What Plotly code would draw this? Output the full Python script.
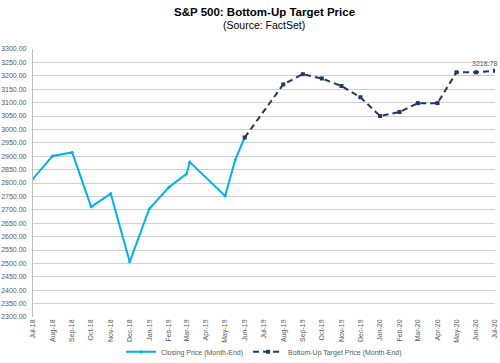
import plotly.graph_objects as go

# ---- data ----
close_dates = ["2018-07-01", "2018-08-01", "2018-09-01", "2018-10-01", "2018-11-01",
               "2018-12-01", "2019-01-01", "2019-02-01", "2019-03-01", "2019-03-06",
               "2019-05-01", "2019-05-17", "2019-06-01"]
close_values = [2816, 2901, 2914, 2711, 2760, 2506, 2704, 2784, 2834, 2878,
                2752, 2886, 2970]

target_dates = ["2019-06-01", "2019-08-01", "2019-09-01", "2019-10-01", "2019-11-01",
                "2019-12-01", "2020-01-01", "2020-02-01", "2020-03-01", "2020-04-01",
                "2020-05-01", "2020-06-01", "2020-07-01"]
target_values = [2970, 3168, 3206, 3190, 3162, 3120, 3050, 3065, 3098, 3098,
                 3213, 3213, 3218.78]

title_text = "S&P 500: Bottom-Up Target Price"
subtitle_text = "(Source: FactSet)"
close_name = "Closing Price (Month-End)"
target_name = "Bottom-Up Target Price (Month-End)"

FONT = "Liberation Sans, Arial, sans-serif"
GRAY = "#595959"

fig = go.Figure()
fig.add_trace(go.Scatter(
    x=close_dates, y=close_values, name=close_name, mode="lines+markers",
    line=dict(color="#00B0F0", width=2),
    marker=dict(symbol="circle", size=3, color="#00B0F0"),
))
fig.add_trace(go.Scatter(
    x=target_dates, y=target_values, name=target_name, mode="lines+markers",
    line=dict(color="#1F3864", width=2, dash="6px,4px"),
    marker=dict(symbol="square", size=4, color="#1F3864"),
))

fig.add_annotation(
    x=target_dates[-1], y=target_values[-1], xref="x", yref="y",
    text=f"{target_values[-1]:.2f}", showarrow=False,
    xanchor="right", yanchor="bottom", xshift=4, yshift=2,
    font=dict(family=FONT, size=7, color=GRAY),
)

fig.add_annotation(
    x=0.5, y=1.1395, xref="paper", yref="paper", text=f"<b>{title_text}</b>",
    showarrow=False, xanchor="center", yanchor="middle",
    font=dict(family=FONT, size=11.5, color="#000000"),
)
fig.add_annotation(
    x=0.5, y=1.091, xref="paper", yref="paper", text=subtitle_text,
    showarrow=False, xanchor="center", yanchor="middle",
    font=dict(family=FONT, size=10.5, color="#000000"),
)

fig.update_layout(
    width=500, height=363,
    margin=dict(l=33, r=5, t=49, b=46, pad=0, autoexpand=False),
    paper_bgcolor="white", plot_bgcolor="white",
    showlegend=True,
    legend=dict(orientation="h", x=0.5, xanchor="center", y=-0.13, yanchor="middle",
                font=dict(family=FONT, size=7, color=GRAY),
                bgcolor="rgba(0,0,0,0)", itemwidth=30, tracegroupgap=0),
    font=dict(family=FONT, color=GRAY),
)

fig.update_xaxes(
    type="date", range=["2018-07-01", "2020-07-01"], automargin=False,
    tick0="2018-07-01", dtick="M1", tickformat="%b-%y", tickangle=-90,
    tickfont=dict(family=FONT, size=7, color=GRAY),
    showgrid=False, showline=False, zeroline=False, ticks="", ticklen=0,
)
fig.update_yaxes(
    range=[2300, 3300], dtick=50, tickformat=".2f", automargin=False,
    tickfont=dict(family=FONT, size=7, color=GRAY),
    showgrid=True, gridcolor="#D0D0D0", gridwidth=1.3,
    showline=True, linecolor="#BFBFBF", linewidth=1.3,
    zeroline=False, ticks="", ticklabelstandoff=4,
)

fig.write_html(
    "out.html",
    config={"displayModeBar": False},
    post_script="document.body.style.margin='0';document.body.style.overflow='hidden';",
)
